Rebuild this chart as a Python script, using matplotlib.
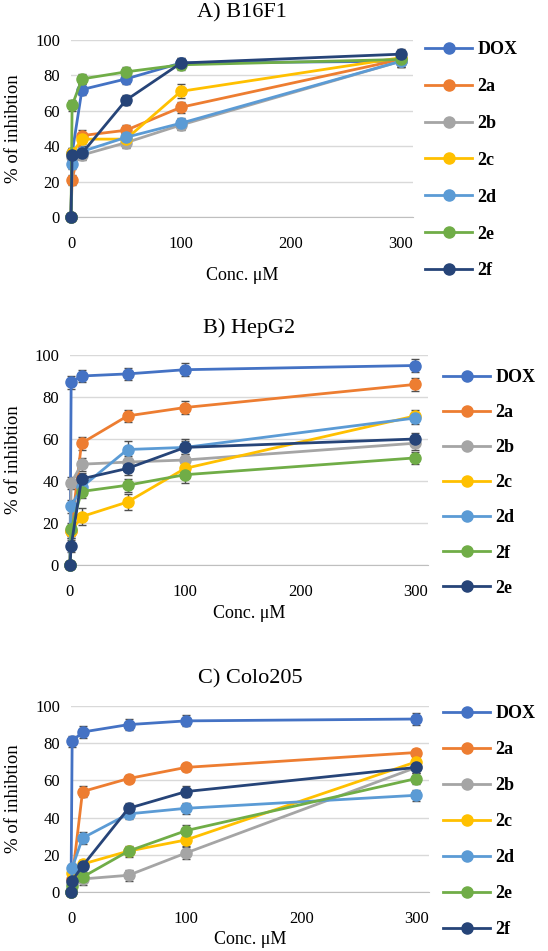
import matplotlib
matplotlib.use("Agg")
import matplotlib.pyplot as plt
from matplotlib.lines import Line2D

plt.rcParams["font.family"] = ["Liberation Serif", "DejaVu Serif"]

# concentrations (uM)
conc = [0, 1, 10, 50, 100, 300]

# ---- A) B16F1 ----
a_labels = ["DOX", "2a", "2b", "2c", "2d", "2e", "2f"]
a_colors = ["#4472C4", "#ED7D31", "#A5A5A5", "#FFC000", "#5B9BD5", "#70AD47", "#264478"]
a_values = [
    [0, 36, 72, 78, 87, 88],
    [0, 21, 46, 49, 62, 89],
    [0, 34, 35, 42, 52, 88],
    [0, 36, 44, 44, 71, 90],
    [0, 30, 37, 45, 53, 88],
    [0, 63, 78, 82, 86, 89],
    [0, 35, 36, 66, 87, 92],
]
a_errors = [
    [0, 3, 3, 3, 3, 3],
    [0, 3, 3, 3, 3, 3],
    [0, 3, 3, 3, 3, 3],
    [0, 3, 3, 3, 4, 3],
    [0, 3, 3, 3, 3, 3],
    [0, 3, 3, 3, 3, 3],
    [0, 3, 3, 3, 3, 3],
]

# ---- B) HepG2 ----
b_labels = ["DOX", "2a", "2b", "2c", "2d", "2f", "2e"]
b_colors = ["#4472C4", "#ED7D31", "#A5A5A5", "#FFC000", "#5B9BD5", "#70AD47", "#264478"]
b_values = [
    [0, 87, 90, 91, 93, 95],
    [0, 16, 58, 71, 75, 86],
    [0, 39, 48, 49, 50, 58],
    [0, 16, 23, 30, 46, 71],
    [0, 28, 37, 55, 56, 70],
    [0, 17, 35, 38, 43, 51],
    [0, 9, 41, 46, 56, 60],
]
b_errors = [
    [0, 3, 3, 3, 3, 3],
    [0, 3, 3, 3, 3, 3],
    [0, 3, 3, 3, 3, 3],
    [0, 3, 4, 4, 4, 3],
    [0, 3, 3, 4, 4, 3],
    [0, 3, 3, 3, 4, 3],
    [0, 3, 3, 3, 3, 3],
]

# ---- C) Colo205 ----
c_labels = ["DOX", "2a", "2b", "2c", "2d", "2e", "2f"]
c_colors = ["#4472C4", "#ED7D31", "#A5A5A5", "#FFC000", "#5B9BD5", "#70AD47", "#264478"]
c_values = [
    [0, 81, 86, 90, 92, 93],
    [0, 7, 54, 61, 67, 75],
    [0, 5, 7, 9, 21, 67],
    [0, 10, 15, 22, 28, 70],
    [0, 13, 29, 42, 45, 52],
    [0, 3, 8, 22, 33, 61],
    [0, 6, 14, 45, 54, 67],
]
c_errors = [
    [0, 3, 3, 3, 3, 3],
    [0, 2, 3, 2, 2, 2],
    [0, 2, 3, 3, 3, 3],
    [0, 2, 2, 2, 3, 3],
    [0, 2, 3, 3, 3, 3],
    [0, 2, 2, 3, 3, 3],
    [0, 2, 3, 3, 3, 3],
]

W, H = 548, 951
fig = plt.figure(figsize=(W / 100, H / 100), dpi=100)

# panel boxes in pixels: left, top, right, bottom ; legend top-left ; xlabel offset
panels = [
    ("A) B16F1", a_labels, a_colors, a_values, a_errors, (71, 40, 413, 217), (418, 34), 1.1, 58),
    ("B) HepG2", b_labels, b_colors, b_values, b_errors, (70, 355, 428, 565), (436, 362), 1.0, 48),
    ("C) Colo205", c_labels, c_colors, c_values, c_errors, (71, 706, 429, 892), (436, 698), 1.05, 48),
]

for title, labels, colors, values, errors, box, legpos, lspace, xlo in panels:
    l, t, r, b = box
    ax = fig.add_axes([l / W, 1 - b / H, (r - l) / W, (b - t) / H])
    handles = []
    for lab, col, v, e in zip(labels, colors, values, errors):
        ax.errorbar(conc, v, yerr=e, color=col, lw=2, marker="o", ms=8,
                    ecolor="#505050", elinewidth=1, capsize=3, capthick=1,
                    clip_on=False, zorder=3)
        handles.append(Line2D([], [], color=col, lw=2, marker="o", ms=8))
    ax.set_xlim(0, 311)
    ax.set_ylim(0, 100)
    ax.set_xticks([0, 100, 200, 300])
    ax.set_yticks(range(0, 101, 20))
    ax.grid(axis="y", color="#D9D9D9", lw=1)
    ax.set_axisbelow(True)
    for s in ["top", "right", "left"]:
        ax.spines[s].set_visible(False)
    ax.spines["bottom"].set_color("#BFBFBF")
    ax.tick_params(length=0, labelsize=12)
    ax.tick_params(axis="x", pad=14)
    ax.tick_params(axis="y", pad=8)

    cx = (l + r) / 2 / W
    fig.text(cx, 1 - (t - 27) / H, title, ha="center", va="center", fontsize=16)
    fig.text(cx, 1 - (b + xlo) / H, "Conc. μM", ha="center", va="center", fontsize=13)
    fig.text(14 / W, 1 - (t + b) / 2 / H, "% of inhibtion", rotation=90,
             ha="center", va="center", fontsize=13.5)

    ax.legend(handles, labels, loc="upper left",
              bbox_to_anchor=(legpos[0] / W, 1 - legpos[1] / H),
              bbox_transform=fig.transFigure, frameon=False,
              prop={"weight": "bold", "size": 13}, handlelength=2.6,
              labelspacing=lspace, handletextpad=0.3, borderaxespad=0)

fig.savefig("out.png", dpi=100)
